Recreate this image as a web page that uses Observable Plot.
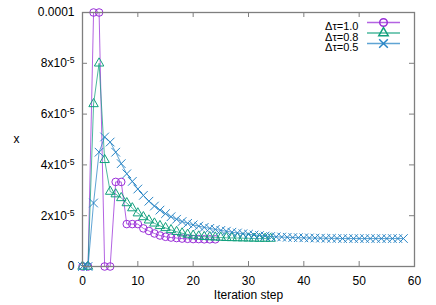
<!DOCTYPE html>
<html><head><meta charset="utf-8">
<script src="https://cdn.jsdelivr.net/npm/d3@7"></script>
<script src="https://cdn.jsdelivr.net/npm/@observablehq/plot@0.6"></script>
<style>
body{margin:0;background:#fff;}
#chart svg{font-family:"Liberation Sans",Arial,sans-serif;}
</style>
</head><body><div id="chart"></div>
<script>
// Series values (index = iteration step)
const tau10 = [0, 0, 1.0e-4, 1.0e-4, 0, 0, 3.33e-5, 3.33e-5, 1.67e-5, 1.67e-5, 1.67e-5,
  1.5e-5, 1.4e-5, 1.3e-5, 1.22e-5, 1.17e-5, 1.14e-5, 1.12e-5, 1.1e-5, 1.09e-5,
  1.08e-5, 1.08e-5, 1.07e-5, 1.07e-5, 1.07e-5];
const tau08 = [0, 0, 6.4e-5, 8.0e-5, 4.2e-5, 2.95e-5, 2.85e-5, 2.7e-5, 2.5e-5, 2.3e-5,
  2.1e-5, 1.95e-5, 1.82e-5, 1.7e-5, 1.6e-5, 1.52e-5, 1.44e-5, 1.37e-5, 1.31e-5, 1.26e-5,
  1.22e-5, 1.19e-5, 1.17e-5, 1.16e-5, 1.15e-5, 1.14e-5, 1.13e-5, 1.125e-5, 1.12e-5, 1.115e-5,
  1.11e-5, 1.105e-5, 1.1e-5, 1.1e-5, 1.1e-5];
const tau05 = [0, 0, 2.5e-5, 4.5e-5, 5.1e-5, 4.9e-5, 4.5e-5, 4.05e-5, 3.65e-5, 3.35e-5,
  3.05e-5, 2.8e-5, 2.57e-5, 2.38e-5, 2.22e-5, 2.08e-5, 1.96e-5, 1.86e-5, 1.77e-5, 1.7e-5,
  1.64e-5, 1.59e-5, 1.54e-5, 1.5e-5, 1.46e-5, 1.42e-5, 1.39e-5, 1.35e-5, 1.32e-5, 1.29e-5,
  1.27e-5, 1.24e-5, 1.22e-5, 1.2e-5, 1.18e-5, 1.17e-5, 1.16e-5, 1.15e-5, 1.14e-5, 1.135e-5,
  1.13e-5, 1.125e-5, 1.12e-5, 1.115e-5, 1.11e-5, 1.11e-5, 1.105e-5, 1.1e-5, 1.1e-5, 1.1e-5,
  1.1e-5, 1.1e-5, 1.1e-5, 1.1e-5, 1.1e-5, 1.1e-5, 1.1e-5, 1.1e-5, 1.1e-5];

const seriesNames = ["Δτ=1.0", "Δτ=0.8", "Δτ=0.5"];
const seriesColors = ["#9a2fd8", "#12a07e", "#2a86c6"];
const seriesSymbols = ["circle", "triangle", "times"];
const seriesR = [3.8, 3.5, 4];
const xTicks = [0, 10, 20, 30, 40, 50, 60];
const yTicks = [0, 2e-5, 4e-5, 6e-5, 8e-5, 1e-4];
const yTickLabels = ["0", "2x10|-5", "4x10|-5", "6x10|-5", "8x10|-5", "0.0001"];
const xLabel = "Iteration step";
const yLabel = "x";

const allSeries = [tau10, tau08, tau05];
const table = allSeries.map((vals, k) => vals.map((v, i) => ({step: i, value: v, s: k})));

const W = 436, H = 305, mL = 82, mR = 22, mT = 12, mB = 39;
const fw = W - mL - mR, fh = H - mT - mB;
const gray = "#7f7f7f";

const lineSym = {draw(ctx) { ctx.moveTo(-16.5, 0); ctx.lineTo(16.5, 0); }};

const marks = [];
marks.push(Plot.ruleX(xTicks, {x: d => d, insetTop: fh - 5, stroke: gray}));
marks.push(Plot.ruleX(xTicks, {x: d => d, insetBottom: fh - 5, stroke: gray}));
marks.push(Plot.ruleY(yTicks, {y: d => d, insetRight: fw - 5, stroke: gray}));
marks.push(Plot.ruleY(yTicks, {y: d => d, insetLeft: fw - 5, stroke: gray}));
table.forEach((data, k) => {
  marks.push(Plot.line(data, {x: "step", y: "value", stroke: seriesColors[k], strokeWidth: 1, strokeOpacity: 0.75}));
  marks.push(Plot.dot(data, {x: "step", y: "value", stroke: seriesColors[k], symbol: seriesSymbols[k], r: seriesR[k], strokeWidth: 1, fill: "none"}));
  const dyk = 10 + 10.5 * k;
  marks.push(Plot.text([seriesNames[k]], {text: d => d, frameAnchor: "top-right", dx: -56, dy: dyk, textAnchor: "end", fontSize: 11, fill: "#000"}));
  marks.push(Plot.dot([seriesNames[k]], {frameAnchor: "top-right", dx: -31, dy: dyk, symbol: lineSym, stroke: seriesColors[k], strokeOpacity: 0.75, fill: "none"}));
  marks.push(Plot.dot([seriesNames[k]], {frameAnchor: "top-right", dx: -31, dy: dyk, symbol: seriesSymbols[k], r: seriesR[k], stroke: seriesColors[k], fill: "none"}));
});
marks.push(Plot.frame({stroke: gray, strokeWidth: 1.3}));
marks.push(Plot.axisX({ticks: xTicks, tickSize: 0, tickPadding: 10, label: null, fontSize: 12, tickFormat: d => String(d)}));
marks.push(Plot.axisY({ticks: yTicks, tickSize: 0, tickPadding: 8, label: null, fontSize: 12, tickFormat: (d, i) => yTickLabels[yTicks.indexOf(d)]}));
marks.push(Plot.text([xLabel], {text: d => d, frameAnchor: "bottom", dy: 32, fontSize: 12, fill: "#000"}));
marks.push(Plot.text([yLabel], {text: d => d, frameAnchor: "left", dx: -69, fontSize: 12, fill: "#000"}));

const chart = Plot.plot({
  width: W, height: H,
  marginLeft: mL, marginRight: mR, marginTop: mT, marginBottom: mB,
  style: {fontSize: "12px", color: "#000", background: "#fff", fontFamily: "'Liberation Sans', Arial, sans-serif"},
  x: {domain: [0, 60]},
  y: {domain: [0, 1e-4]},
  marks
});

// superscript exponents in y tick labels
d3.select(chart).selectAll('g[aria-label="y-axis tick label"] text').each(function() {
  const t = this.textContent;
  if (t.includes("|")) {
    const [base, exp] = t.split("|");
    const sel = d3.select(this);
    sel.text(base);
    sel.append("tspan").attr("dy", "-0.45em").attr("font-size", "0.72em").text(exp);
  }
});
document.getElementById("chart").appendChild(chart);
</script>
</body></html>
